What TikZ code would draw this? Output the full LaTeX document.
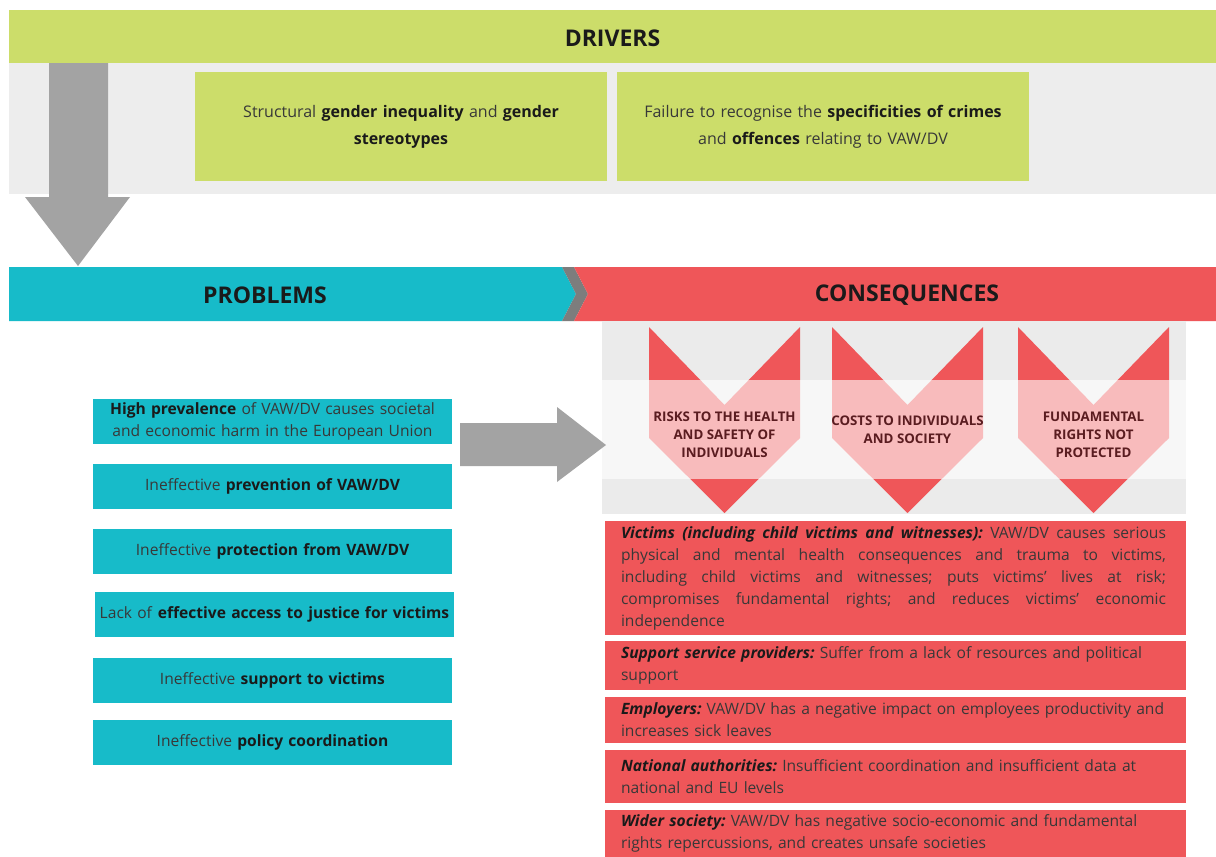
\documentclass[tikz,border=0pt]{standalone}
\usepackage{fontspec}
\setmainfont{Open Sans}
\definecolor{drvgreen}{HTML}{CCDD6A}
\definecolor{bandgray}{HTML}{EDEDED}
\definecolor{conbg}{HTML}{EBEBEB}
\definecolor{teal2}{HTML}{17BBC9}
\definecolor{red2}{HTML}{EF5659}
\definecolor{arrgray}{HTML}{A3A3A3}
\definecolor{chevgray}{HTML}{7D7D7D}
\definecolor{txtdark}{HTML}{1A1A1A}
\definecolor{txtreg}{HTML}{383838}
\definecolor{chevtxt}{HTML}{5A1C20}
\newcommand\bld[1]{\textbf{\color{txtdark}#1}}
\newcommand\bit[1]{\textbf{\textit{\color{txtdark}#1}}}
\newcommand\jline[1]{\leavevmode\hbox to 545pt{\frenchspacing\spaceskip=0pt\xspaceskip=0pt\relax #1}}
\begin{document}
\frenchspacing
\begin{tikzpicture}[x=1pt,y=-1pt,
 hdr/.style={font=\bfseries\fontsize{23}{27}\selectfont, text=txtdark, inner sep=0pt},
 drvbox/.style={fill=drvgreen, minimum width=412pt, minimum height=109pt, text width=390pt, align=center, font=\fontsize{16}{27}\selectfont, text=txtreg, inner sep=0pt},
 probbox/.style={fill=teal2, minimum width=359pt, minimum height=45pt, text width=355pt, align=center, font=\fontsize{15.6}{22}\selectfont, text=txtreg, inner sep=0pt},
 consbox/.style={fill=red2, minimum width=581pt, inner xsep=16pt, inner ysep=0pt, text width=549pt, align=left, font=\frenchspacing\fontsize{15.6}{22}\selectfont, text=txtreg},
 chevlabel/.style={font=\bfseries\fontsize{13.3}{18}\selectfont, text=chevtxt, align=center, inner sep=0pt},
 chevshape/.style={fill=red2},
]
\useasboundingbox (0,0) rectangle (1216,857);
\fill[white] (0,0) rectangle (1216,857);
% drivers band
\fill[bandgray] (9,63) rectangle (1216,194);
\fill[arrgray] (49,63) -- (108,63) -- (108,197) -- (130,197) -- (78,266) -- (25,197) -- (49,197) -- cycle;
\node[fill=drvgreen, minimum width=1207pt, minimum height=53pt, hdr] (drv) at (612.5,36.5) {};
\node[hdr] (drvt) at (612.5,38) {DRIVERS};
\node[drvbox] (d1) at (401,126.5) {Structural \bld{gender inequality} and \bld{gender}\\\bld{stereotypes}};
\node[drvbox] (d2) at (823,126.5) {Failure to recognise the \bld{specificities of crimes}\\and \bld{offences} relating to VAW/DV};
% problems / consequences bar
\fill[teal2] (9,267) -- (562,267) -- (576,294) -- (562,321) -- (9,321) -- cycle;
\fill[chevgray] (562,267) -- (574,267) -- (588,294) -- (574,321) -- (562,321) -- (576,294) -- cycle;
\fill[red2] (574,267) -- (1216,267) -- (1216,321) -- (574,321) -- (588,294) -- cycle;
\node[hdr] (prob) at (265,295) {PROBLEMS};
\node[hdr] (cons) at (907,295) {CONSEQUENCES};
% consequences chevrons
\fill[conbg] (602,321) rectangle (1186,514);
\foreach \dx in {0,183,369}{
  \fill[chevshape, xshift=\dx pt] (649,327) -- (724.5,405) -- (800,327) -- (800,438) -- (724.5,513) -- (649,438) -- cycle;
}
\fill[white, opacity=0.6] (602,380) rectangle (1186,479);
\node[chevlabel] (c1) at (724.5,435) {RISKS TO THE HEALTH\\AND SAFETY OF\\INDIVIDUALS};
\node[chevlabel] (c2) at (907.5,430) {COSTS TO INDIVIDUALS\\AND SOCIETY};
\node[chevlabel] (c3) at (1093.5,435) {FUNDAMENTAL\\RIGHTS NOT\\PROTECTED};
% problems boxes
\node[probbox] (p1) at (272.5,421.5) {\bld{High prevalence} of VAW/DV causes societal\\and economic harm in the European Union};
\node[probbox] (p2) at (272.5,486.5) {Ineffective \bld{prevention of VAW/DV}};
\node[probbox] (p3) at (272.5,551.5) {Ineffective \bld{protection from VAW/DV}};
\node[probbox] (p4) at (274.5,614.5) {Lack of \bld{effective access to justice for victims}};
\node[probbox] (p5) at (272.5,680.5) {Ineffective \bld{support to victims}};
\node[probbox] (p6) at (272.5,742.5) {Ineffective \bld{policy coordination}};
% arrow problems -> consequences
\fill[arrgray] (460,423) -- (557,423) -- (557,407) -- (606,445) -- (557,482) -- (557,466) -- (460,466) -- cycle;
% consequences boxes
\node[consbox, minimum height=114pt] (r1) at (895.5,578) {\jline{\bit{Victims (including child victims and witnesses):} VAW/DV causes serious}\\
\jline{physical and mental health consequences and trauma to victims,}\\
\jline{including child victims and witnesses; puts victims' lives at risk;}\\
\jline{compromises fundamental rights; and reduces victims' economic}\\
independence};
\node[consbox, minimum height=49pt] (r2) at (895.5,665.5) {\bit{Support service providers:} Suffer from a lack of resources and political\\support};
\node[consbox, minimum height=46pt] (r3) at (895.5,720) {\bit{Employers:} VAW/DV has a negative impact on employees productivity and\\increases sick leaves};
\node[consbox, minimum height=53pt] (r4) at (895.5,776.5) {\bit{National authorities:} Insufficient coordination and insufficient data at\\national and EU levels};
\node[consbox, minimum height=47pt] (r5) at (895.5,833.5) {\bit{Wider society:} VAW/DV has negative socio-economic and fundamental\\rights repercussions, and creates unsafe societies};
\end{tikzpicture}
\end{document}
